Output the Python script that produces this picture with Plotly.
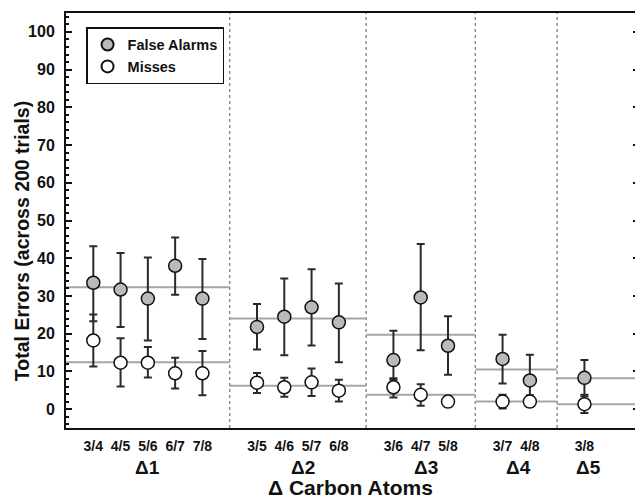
import plotly.graph_objects as go

# ---- data ----
groups = ["Δ1", "Δ2", "Δ3", "Δ4", "Δ5"]
pair_labels = [["3/4", "4/5", "5/6", "6/7", "7/8"],
               ["3/5", "4/6", "5/7", "6/8"],
               ["3/6", "4/7", "5/8"],
               ["3/7", "4/8"],
               ["3/8"]]

fa_values = [33.5, 31.7, 29.3, 38.0, 29.3, 21.8, 24.5, 27.0, 23.0, 13.0, 29.6, 16.8, 13.3, 7.6, 8.3]
fa_upper = [43.2, 41.4, 40.2, 45.5, 39.8, 27.9, 34.6, 37.1, 33.3, 20.8, 43.8, 24.6, 19.7, 14.4, 13.0]
fa_lower = [23.3, 21.8, 18.2, 30.3, 18.6, 15.8, 14.3, 16.9, 12.4, 7.8, 15.6, 9.1, 6.8, 1.0, 3.8]

miss_values = [18.2, 12.3, 12.3, 9.5, 9.5, 7.0, 5.8, 7.1, 4.9, 5.8, 3.8, 2.0, 2.0, 2.0, 1.3]
miss_upper = [25.1, 18.8, 16.5, 13.6, 15.4, 9.6, 8.3, 10.8, 7.8, 8.2, 6.6, 3.0, 3.8, 3.7, 3.4]
miss_lower = [11.3, 6.0, 8.4, 5.5, 3.7, 4.3, 3.3, 3.5, 2.0, 3.1, 0.9, 0.9, 0.2, 0.6, -1.0]

fa_group_means = [32.3, 24.0, 19.7, 10.5, 8.2]
miss_group_means = [12.4, 6.2, 3.8, 2.0, 1.3]

y_ticks = list(range(0, 101, 10))

# ---- layout of categories on a numeric axis (one empty slot between groups) ----
xpos, xlabels, bounds = [], [], []
pos = 0
start = 0
for gi, labs in enumerate(pair_labels):
    for lab in labs:
        pos += 1
        xpos.append(pos)
        xlabels.append(lab)
    pos += 1
    bounds.append((start, pos))
    start = pos
bounds[-1] = (bounds[-1][0], bounds[-1][1] + 1)
x_max = bounds[-1][1]

FONT = "Liberation Sans"

fig = go.Figure()
fig.add_trace(go.Scatter(
    x=xpos, y=fa_values, mode="markers", name="False Alarms",
    marker=dict(size=13, color="#bababa", line=dict(color="#111111", width=1.5)),
    error_y=dict(type="data", symmetric=False,
                 array=[u - v for u, v in zip(fa_upper, fa_values)],
                 arrayminus=[v - l for v, l in zip(fa_values, fa_lower)],
                 color="#2a2a2a", thickness=2, width=4),
))
fig.add_trace(go.Scatter(
    x=xpos, y=miss_values, mode="markers", name="Misses",
    marker=dict(size=13, color="white", line=dict(color="#111111", width=1.5)),
    error_y=dict(type="data", symmetric=False,
                 array=[u - v for u, v in zip(miss_upper, miss_values)],
                 arrayminus=[v - l for v, l in zip(miss_values, miss_lower)],
                 color="#2a2a2a", thickness=2, width=4),
))

shapes = []
for (x0, x1), fm, mm in zip(bounds, fa_group_means, miss_group_means):
    for m in (fm, mm):
        shapes.append(dict(type="line", xref="x", yref="y", x0=x0, x1=x1, y0=m, y1=m,
                           line=dict(color="#a6a6a6", width=2), layer="below"))
for (x0, x1) in bounds[1:]:
    shapes.append(dict(type="line", xref="x", yref="paper", x0=x0, x1=x0, y0=0, y1=1,
                       line=dict(color="#8c8c8c", width=1.5, dash="dot"), layer="below"))

delta_label_x = [3.0, 8.7, 13.2, 16.6, 19.15]
annotations = []
for g, gx in zip(groups, delta_label_x):
    annotations.append(dict(text=g, x=gx, xref="x", y=0, yref="paper", yshift=-39,
                            yanchor="middle", xanchor="center", showarrow=False,
                            font=dict(family=FONT, size=19, color="#111", weight="bold")))
annotations.append(dict(text="Δ Carbon Atoms", x=0.497, xref="paper", y=0, yref="paper",
                        yshift=-73, yanchor="bottom", xanchor="center", showarrow=False,
                        font=dict(family=FONT, size=21, color="#111", weight="bold")))
annotations.append(dict(text="Total Errors (across 200 trials)", x=-0.077, xref="paper",
                        y=0.45, yref="paper", textangle=-90, xanchor="center", yanchor="middle",
                        showarrow=False,
                        font=dict(family=FONT, size=19.5, color="#111", weight="bold")))

# the page body keeps its default 8px margin, so the figure is sized to fit the window
fig.update_layout(
    width=635, height=494,
    margin=dict(l=58, r=2, t=5, b=74),
    paper_bgcolor="white", plot_bgcolor="white",
    font=dict(family=FONT, color="#111", weight="bold"),
    showlegend=True,
    legend=dict(x=0.035, y=0.966, xanchor="left", yanchor="top",
                bordercolor="#111", borderwidth=1.5, bgcolor="white",
                font=dict(family=FONT, size=14.5, color="#111", weight="bold"),
                tracegroupgap=0, itemsizing="constant"),
    shapes=shapes, annotations=annotations,
)
fig.update_xaxes(range=[0, x_max], tickmode="array", tickvals=xpos, ticktext=xlabels,
                 ticks="", showgrid=False, zeroline=False, showline=True,
                 linecolor="#111", linewidth=2, mirror=True,
                 tickfont=dict(family=FONT, size=14, color="#111", weight="bold"),
                 ticklabelstandoff=4)
fig.update_yaxes(range=[-5, 105], tickmode="array", tickvals=y_ticks,
                 ticks="inside", ticklen=6, tickwidth=2, tickcolor="#111",
                 minor=dict(dtick=2, ticks="inside", ticklen=3, tickwidth=1.5, tickcolor="#111"),
                 showgrid=False, zeroline=False, showline=True,
                 linecolor="#111", linewidth=2, mirror="allticks",
                 tickfont=dict(family=FONT, size=16, color="#111", weight="bold"),
                 ticklabelstandoff=6)

fig.write_html("out.html", config={"displayModeBar": False})
